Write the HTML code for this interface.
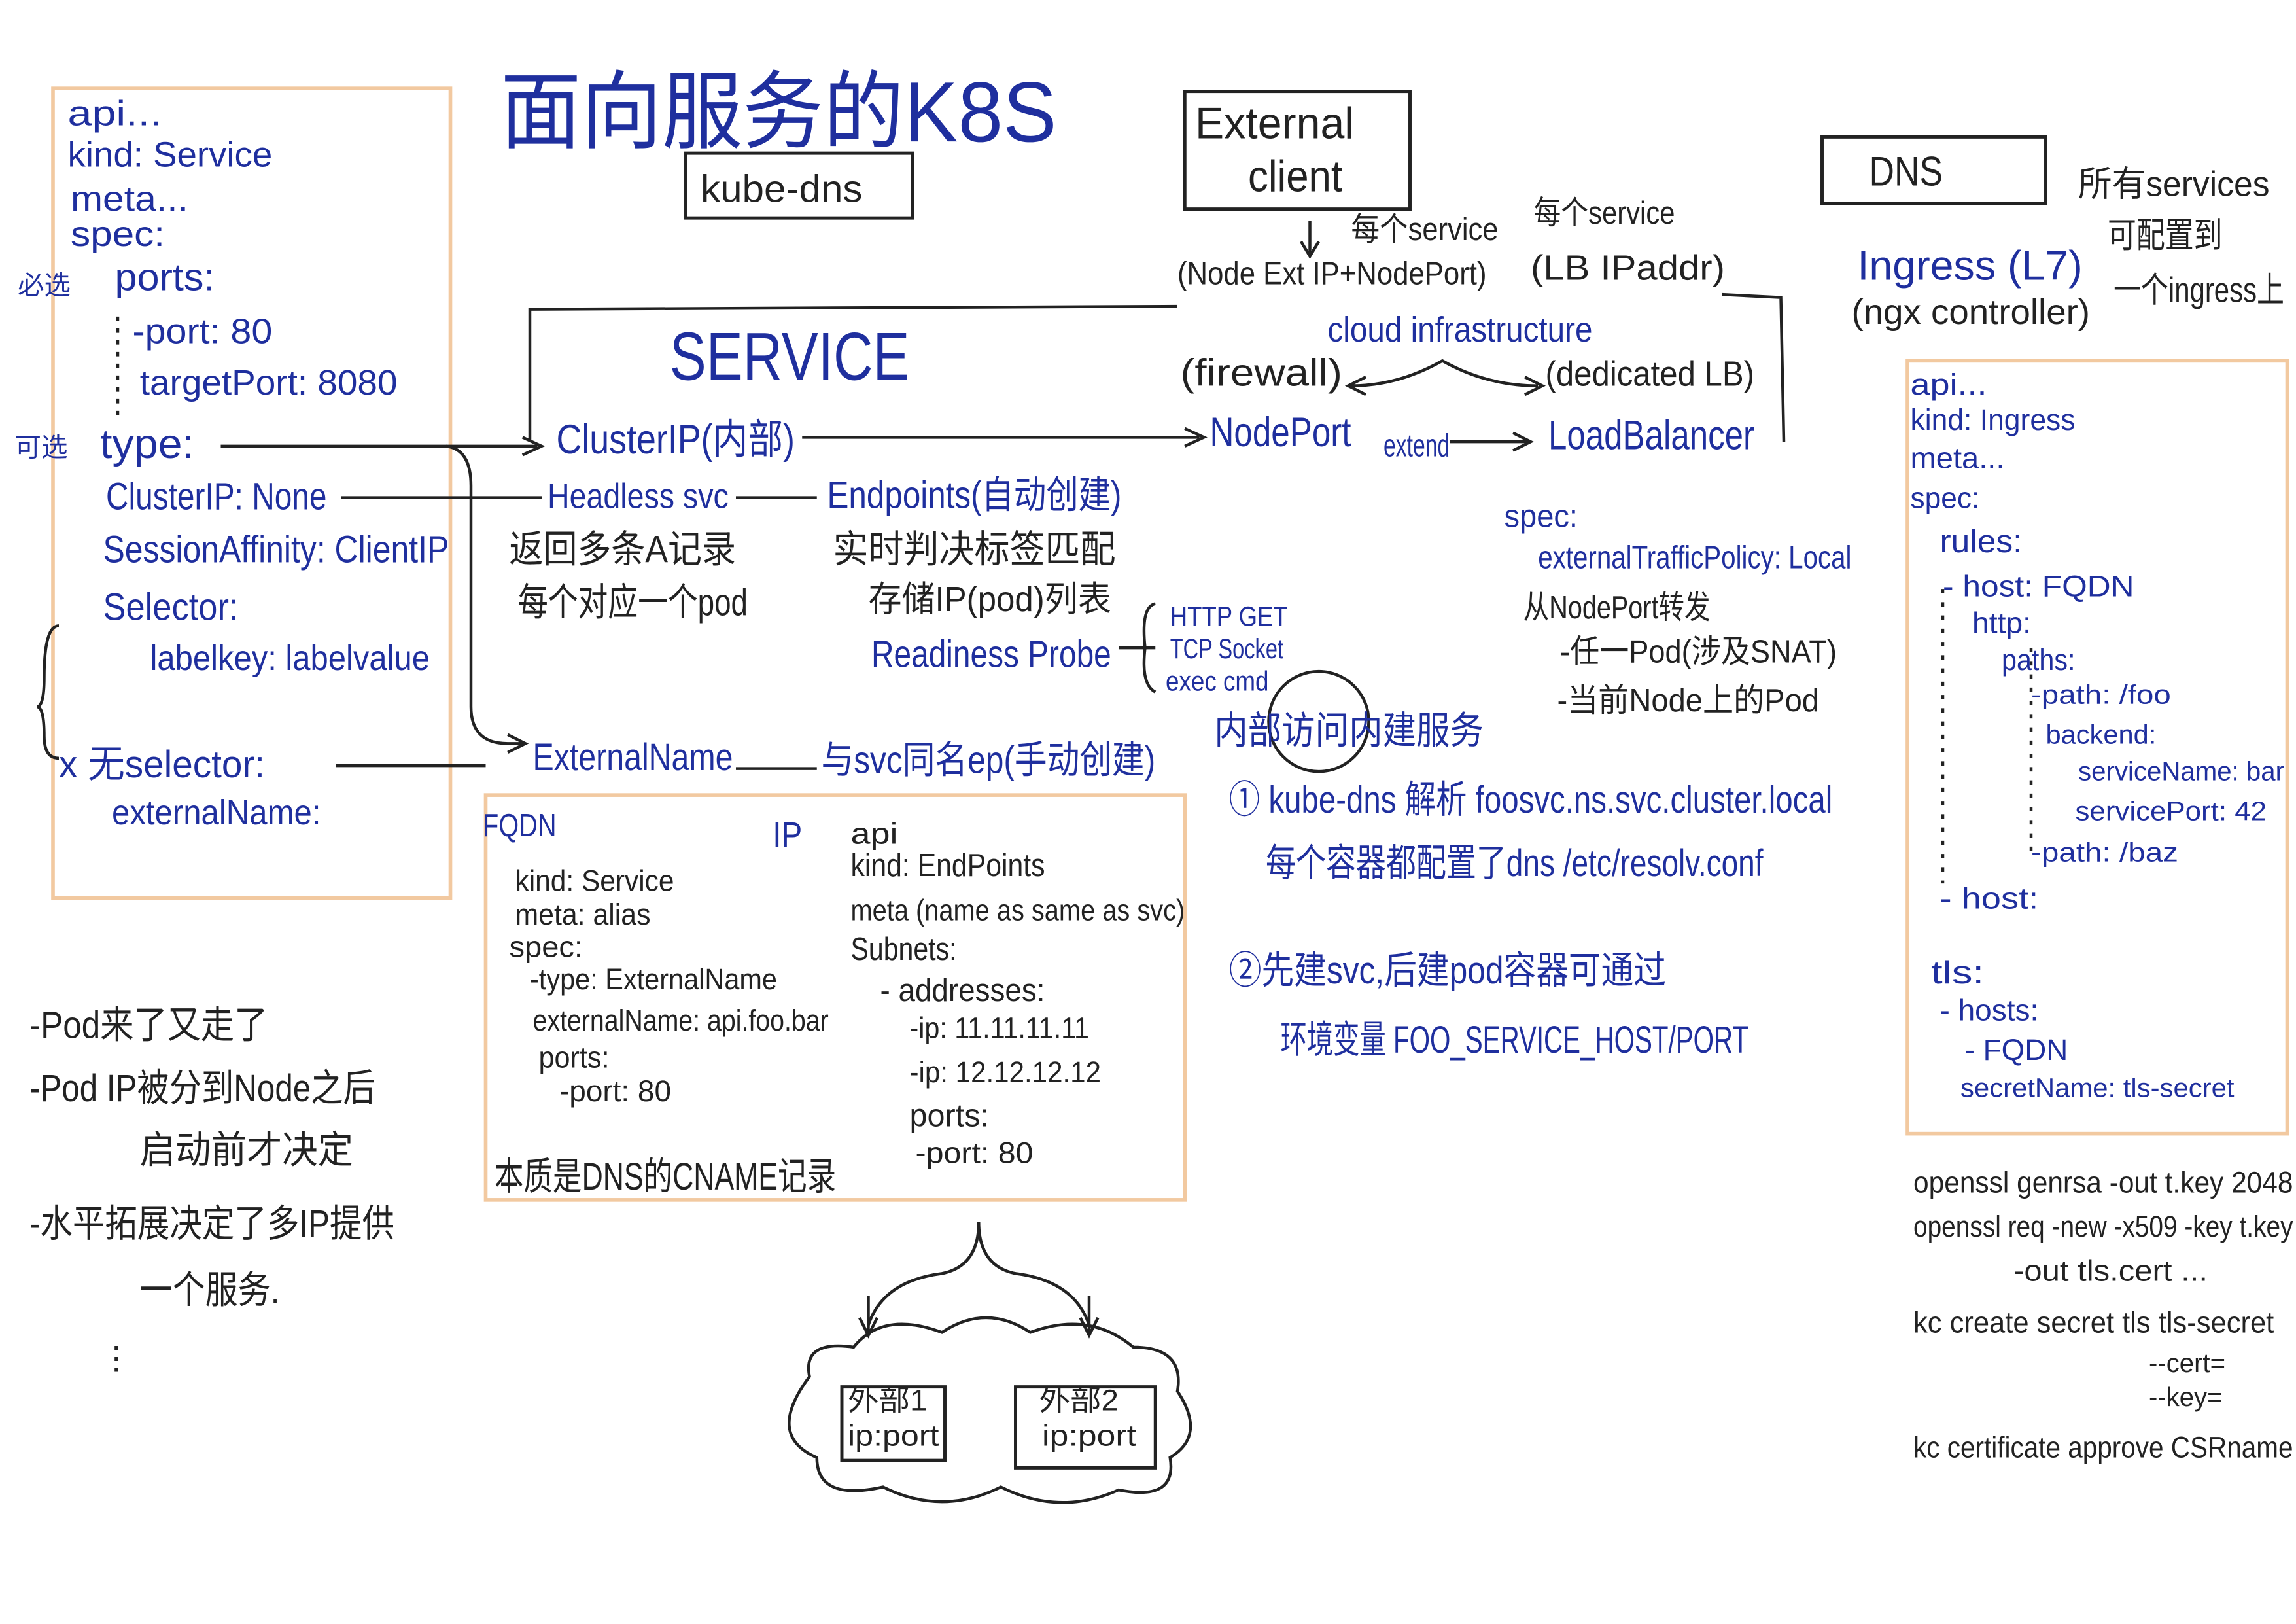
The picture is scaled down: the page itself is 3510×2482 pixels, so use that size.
<!DOCTYPE html>
<html><head><meta charset="utf-8"><style>
html,body{margin:0;padding:0;background:#fff;}
svg{display:block}
text{font-family:"Liberation Sans","Noto Sans CJK SC",sans-serif;fill:#1f2f9e;}
.k{fill:#222}
</style></head><body>
<svg width="3510" height="2482" viewBox="0 0 1560 1103" xmlns="http://www.w3.org/2000/svg">
<rect width="1560" height="1103" fill="#fff"/>
<g fill="none" stroke="#f2c9a0" stroke-width="2.5">
<rect x="36" y="60" width="270" height="550"/>
<rect x="330" y="540" width="475" height="275"/>
<rect x="1296" y="245" width="258" height="525"/>
</g>
<g fill="none" stroke="#222" stroke-width="2.2">
<rect x="466" y="104" width="154" height="44"/>
<rect x="805" y="62" width="153" height="80"/>
<rect x="1238" y="93" width="152" height="45"/>
<rect x="572" y="942" width="70" height="50"/>
<rect x="690" y="942" width="95" height="55"/>
</g>
<text x="340" y="96" font-size="58" textLength="378" lengthAdjust="spacingAndGlyphs">面向服务的K8S</text>
<text class="k" x="476" y="137" font-size="26" textLength="110" lengthAdjust="spacingAndGlyphs">kube-dns</text>
<text class="k" x="812" y="94" font-size="30" textLength="108" lengthAdjust="spacingAndGlyphs">External</text>
<text class="k" x="848" y="130" font-size="30" textLength="64" lengthAdjust="spacingAndGlyphs">client</text>
<text class="k" x="1270" y="126" font-size="28" textLength="50" lengthAdjust="spacingAndGlyphs">DNS</text>
<text class="k" x="1412" y="133" font-size="24" textLength="130" lengthAdjust="spacingAndGlyphs">所有services</text>
<text class="k" x="1432" y="168" font-size="24" textLength="78" lengthAdjust="spacingAndGlyphs">可配置到</text>
<text class="k" x="1436" y="205" font-size="24" textLength="116" lengthAdjust="spacingAndGlyphs">一个ingress上</text>
<text x="1262" y="190" font-size="28" textLength="153" lengthAdjust="spacingAndGlyphs">Ingress (L7)</text>
<text class="k" x="1258" y="220" font-size="24" textLength="162" lengthAdjust="spacingAndGlyphs">(ngx controller)</text>
<g stroke="#222" stroke-width="2" fill="none">
<path d="M360 300 L360 210 L800 208"/>
<path d="M1170 200 L1210 202 L1212 300"/>
<path d="M150 303 L365 303"/>
<path d="M355 297 L368 303 L355 309"/>
<path d="M545 297 L815 297"/>
<path d="M805 291 L818 297 L805 303"/>
<path d="M985 300 L1038 300"/>
<path d="M1028 294 L1040 300 L1028 306"/>
<path d="M232 338 L368 338"/>
<path d="M500 338 L555 338"/>
<path d="M303 303 Q320 305 320 330 L320 480 Q320 505 345 505 L355 505"/>
<path d="M345 499 L357 505 L345 511"/>
<path d="M228 520 L330 520"/>
<path d="M500 522 L555 522"/>
<path d="M760 440 L785 440 M785 410 Q775 412 778 440 Q775 465 785 470"/>
<path d="M890 150 L890 172 M884 164 L890 174 L896 164"/>
<path d="M918 262 Q950 262 980 245 Q1010 262 1045 262"/>
<path d="M928 256 L916 262 L928 268 M1036 256 L1048 262 L1036 268"/>
<path d="M40 425 Q30 425 30 460 Q30 480 25 480 Q30 480 30 500 Q30 515 40 515"/>
<path d="M590 900 Q600 870 640 865 Q665 860 665 830 Q665 860 690 865 Q730 870 740 900"/>
<path d="M590 880 L590 905 M584 895 L590 907 L596 895 M740 880 L740 905 M734 895 L740 907 L746 895"/>
<path d="M550 935 Q545 910 580 915 Q600 890 640 905 Q670 885 700 905 Q740 890 770 915 Q805 915 800 945 Q820 975 795 990 Q800 1020 760 1012 Q720 1030 680 1010 Q640 1030 600 1010 Q555 1020 555 990 Q520 975 550 935 Z"/>
<ellipse cx="896" cy="490" rx="34" ry="34"/>
<path d="M80 215 L80 285" stroke-dasharray="3 5"/>
<path d="M1320 400 L1320 600 M1380 440 L1380 580" stroke-dasharray="3 6"/>
</g>
<text x="46" y="85" font-size="24" textLength="64" lengthAdjust="spacingAndGlyphs">api...</text>
<text x="46" y="113" font-size="24" textLength="139" lengthAdjust="spacingAndGlyphs">kind: Service</text>
<text x="48" y="143" font-size="24" textLength="80" lengthAdjust="spacingAndGlyphs">meta...</text>
<text x="48" y="167" font-size="24" textLength="64" lengthAdjust="spacingAndGlyphs">spec:</text>
<text x="78" y="197" font-size="26" textLength="68" lengthAdjust="spacingAndGlyphs">ports:</text>
<text x="90" y="233" font-size="24" textLength="95" lengthAdjust="spacingAndGlyphs">-port: 80</text>
<text x="95" y="268" font-size="24" textLength="175" lengthAdjust="spacingAndGlyphs">targetPort: 8080</text>
<text x="68" y="311" font-size="28" textLength="64" lengthAdjust="spacingAndGlyphs">type:</text>
<text x="72" y="346" font-size="26" textLength="150" lengthAdjust="spacingAndGlyphs">ClusterIP: None</text>
<text x="70" y="382" font-size="26" textLength="235" lengthAdjust="spacingAndGlyphs">SessionAffinity: ClientIP</text>
<text x="70" y="421" font-size="26" textLength="92" lengthAdjust="spacingAndGlyphs">Selector:</text>
<text x="102" y="455" font-size="24" textLength="190" lengthAdjust="spacingAndGlyphs">labelkey: labelvalue</text>
<text x="40" y="528" font-size="26" textLength="140" lengthAdjust="spacingAndGlyphs">x 无selector:</text>
<text x="76" y="560" font-size="24" textLength="142" lengthAdjust="spacingAndGlyphs">externalName:</text>
<text x="12" y="200" font-size="18">必选</text>
<text x="10" y="310" font-size="18">可选</text>
<text x="455" y="258" font-size="46" textLength="163" lengthAdjust="spacingAndGlyphs">SERVICE</text>
<text x="378" y="308" font-size="28" textLength="162" lengthAdjust="spacingAndGlyphs">ClusterIP(内部)</text>
<text x="822" y="303" font-size="28" textLength="96" lengthAdjust="spacingAndGlyphs">NodePort</text>
<text x="940" y="310" font-size="22" textLength="45" lengthAdjust="spacingAndGlyphs">extend</text>
<text x="1052" y="305" font-size="28" textLength="140" lengthAdjust="spacingAndGlyphs">LoadBalancer</text>
<text x="372" y="345" font-size="24" textLength="123" lengthAdjust="spacingAndGlyphs">Headless svc</text>
<text x="562" y="345" font-size="26" textLength="200" lengthAdjust="spacingAndGlyphs">Endpoints(自动创建)</text>
<text class="k" x="346" y="382" font-size="26" textLength="154" lengthAdjust="spacingAndGlyphs">返回多条A记录</text>
<text class="k" x="352" y="418" font-size="26" textLength="156" lengthAdjust="spacingAndGlyphs">每个对应一个pod</text>
<text class="k" x="566" y="382" font-size="26" textLength="192" lengthAdjust="spacingAndGlyphs">实时判决标签匹配</text>
<text class="k" x="590" y="415" font-size="24" textLength="165" lengthAdjust="spacingAndGlyphs">存储IP(pod)列表</text>
<text x="592" y="453" font-size="26" textLength="163" lengthAdjust="spacingAndGlyphs">Readiness Probe</text>
<text x="795" y="425" font-size="19" textLength="80" lengthAdjust="spacingAndGlyphs">HTTP GET</text>
<text x="795" y="447" font-size="19" textLength="77" lengthAdjust="spacingAndGlyphs">TCP Socket</text>
<text x="792" y="469" font-size="19" textLength="70" lengthAdjust="spacingAndGlyphs">exec cmd</text>
<text x="362" y="523" font-size="26" textLength="136" lengthAdjust="spacingAndGlyphs">ExternalName</text>
<text x="558" y="525" font-size="26" textLength="227" lengthAdjust="spacingAndGlyphs">与svc同名ep(手动创建)</text>
<text class="k" x="800" y="193" font-size="22" textLength="210" lengthAdjust="spacingAndGlyphs">(Node Ext IP+NodePort)</text>
<text class="k" x="918" y="163" font-size="22" textLength="100" lengthAdjust="spacingAndGlyphs">每个service</text>
<text class="k" x="1042" y="152" font-size="22" textLength="96" lengthAdjust="spacingAndGlyphs">每个service</text>
<text class="k" x="1040" y="190" font-size="24" textLength="132" lengthAdjust="spacingAndGlyphs">(LB IPaddr)</text>
<text x="902" y="232" font-size="24" textLength="180" lengthAdjust="spacingAndGlyphs">cloud infrastructure</text>
<text class="k" x="802" y="262" font-size="26" textLength="110" lengthAdjust="spacingAndGlyphs">(firewall)</text>
<text class="k" x="1050" y="262" font-size="24" textLength="142" lengthAdjust="spacingAndGlyphs">(dedicated LB)</text>
<text x="1022" y="358" font-size="22" textLength="50" lengthAdjust="spacingAndGlyphs">spec:</text>
<text x="1045" y="386" font-size="22" textLength="213" lengthAdjust="spacingAndGlyphs">externalTrafficPolicy: Local</text>
<text class="k" x="1035" y="420" font-size="22" textLength="127" lengthAdjust="spacingAndGlyphs">从NodePort转发</text>
<text class="k" x="1060" y="450" font-size="22" textLength="188" lengthAdjust="spacingAndGlyphs">-任一Pod(涉及SNAT)</text>
<text class="k" x="1058" y="483" font-size="22" textLength="178" lengthAdjust="spacingAndGlyphs">-当前Node上的Pod</text>
<text x="825" y="505" font-size="26" textLength="183" lengthAdjust="spacingAndGlyphs">内部访问内建服务</text>
<text x="835" y="552" font-size="26" textLength="410" lengthAdjust="spacingAndGlyphs">① kube-dns 解析 foosvc.ns.svc.cluster.local</text>
<text x="860" y="595" font-size="26" textLength="338" lengthAdjust="spacingAndGlyphs">每个容器都配置了dns /etc/resolv.conf</text>
<text x="835" y="668" font-size="26" textLength="297" lengthAdjust="spacingAndGlyphs">②先建svc,后建pod容器可通过</text>
<text x="870" y="715" font-size="26" textLength="318" lengthAdjust="spacingAndGlyphs">环境变量 FOO_SERVICE_HOST/PORT</text>
<text x="328" y="568" font-size="22" textLength="50" lengthAdjust="spacingAndGlyphs">FQDN</text>
<text x="525" y="575" font-size="24" textLength="20" lengthAdjust="spacingAndGlyphs">IP</text>
<text class="k" x="350" y="605" font-size="20" textLength="108" lengthAdjust="spacingAndGlyphs">kind: Service</text>
<text class="k" x="350" y="628" font-size="20" textLength="92" lengthAdjust="spacingAndGlyphs">meta: alias</text>
<text class="k" x="346" y="650" font-size="20" textLength="50" lengthAdjust="spacingAndGlyphs">spec:</text>
<text class="k" x="360" y="672" font-size="20" textLength="168" lengthAdjust="spacingAndGlyphs">-type: ExternalName</text>
<text class="k" x="362" y="700" font-size="20" textLength="201" lengthAdjust="spacingAndGlyphs">externalName: api.foo.bar</text>
<text class="k" x="366" y="725" font-size="20" textLength="48" lengthAdjust="spacingAndGlyphs">ports:</text>
<text class="k" x="380" y="748" font-size="20" textLength="76" lengthAdjust="spacingAndGlyphs">-port: 80</text>
<text class="k" x="336" y="808" font-size="26" textLength="232" lengthAdjust="spacingAndGlyphs">本质是DNS的CNAME记录</text>
<text class="k" x="578" y="573" font-size="20" textLength="32" lengthAdjust="spacingAndGlyphs">api</text>
<text class="k" x="578" y="595" font-size="22" textLength="132" lengthAdjust="spacingAndGlyphs">kind: EndPoints</text>
<text class="k" x="578" y="625" font-size="20" textLength="227" lengthAdjust="spacingAndGlyphs">meta (name as same as svc)</text>
<text class="k" x="578" y="652" font-size="22" textLength="72" lengthAdjust="spacingAndGlyphs">Subnets:</text>
<text class="k" x="598" y="680" font-size="22" textLength="112" lengthAdjust="spacingAndGlyphs">- addresses:</text>
<text class="k" x="618" y="705" font-size="20" textLength="122" lengthAdjust="spacingAndGlyphs">-ip: 11.11.11.11</text>
<text class="k" x="618" y="735" font-size="20" textLength="130" lengthAdjust="spacingAndGlyphs">-ip: 12.12.12.12</text>
<text class="k" x="618" y="765" font-size="22" textLength="54" lengthAdjust="spacingAndGlyphs">ports:</text>
<text class="k" x="622" y="790" font-size="20" textLength="80" lengthAdjust="spacingAndGlyphs">-port: 80</text>
<text class="k" x="576" y="958" font-size="20" textLength="54" lengthAdjust="spacingAndGlyphs">外部1</text>
<text class="k" x="576" y="982" font-size="20" textLength="62" lengthAdjust="spacingAndGlyphs">ip:port</text>
<text class="k" x="706" y="958" font-size="20" textLength="54" lengthAdjust="spacingAndGlyphs">外部2</text>
<text class="k" x="708" y="982" font-size="20" textLength="64" lengthAdjust="spacingAndGlyphs">ip:port</text>
<text class="k" x="20" y="705" font-size="26" textLength="162" lengthAdjust="spacingAndGlyphs">-Pod来了又走了</text>
<text class="k" x="20" y="748" font-size="26" textLength="235" lengthAdjust="spacingAndGlyphs">-Pod IP被分到Node之后</text>
<text class="k" x="95" y="790" font-size="26" textLength="145" lengthAdjust="spacingAndGlyphs">启动前才决定</text>
<text class="k" x="20" y="840" font-size="26" textLength="248" lengthAdjust="spacingAndGlyphs">-水平拓展决定了多IP提供</text>
<text class="k" x="95" y="885" font-size="26" textLength="95" lengthAdjust="spacingAndGlyphs">一个服务.</text>
<text class="k" x="68" y="930" font-size="22">⋮</text>
<text x="1298" y="268" font-size="20" textLength="52" lengthAdjust="spacingAndGlyphs">api...</text>
<text x="1298" y="292" font-size="20" textLength="112" lengthAdjust="spacingAndGlyphs">kind: Ingress</text>
<text x="1298" y="318" font-size="20" textLength="64" lengthAdjust="spacingAndGlyphs">meta...</text>
<text x="1298" y="345" font-size="20" textLength="47" lengthAdjust="spacingAndGlyphs">spec:</text>
<text x="1318" y="375" font-size="22" textLength="56" lengthAdjust="spacingAndGlyphs">rules:</text>
<text x="1320" y="405" font-size="20" textLength="130" lengthAdjust="spacingAndGlyphs">- host: FQDN</text>
<text x="1340" y="430" font-size="20" textLength="40" lengthAdjust="spacingAndGlyphs">http:</text>
<text x="1360" y="455" font-size="20" textLength="50" lengthAdjust="spacingAndGlyphs">paths:</text>
<text x="1380" y="478" font-size="18" textLength="95" lengthAdjust="spacingAndGlyphs">-path: /foo</text>
<text x="1390" y="505" font-size="18" textLength="75" lengthAdjust="spacingAndGlyphs">backend:</text>
<text x="1412" y="530" font-size="18" textLength="140" lengthAdjust="spacingAndGlyphs">serviceName: bar</text>
<text x="1410" y="557" font-size="18" textLength="130" lengthAdjust="spacingAndGlyphs">servicePort: 42</text>
<text x="1380" y="585" font-size="18" textLength="100" lengthAdjust="spacingAndGlyphs">-path: /baz</text>
<text x="1318" y="617" font-size="20" textLength="67" lengthAdjust="spacingAndGlyphs">- host:</text>
<text x="1312" y="668" font-size="22" textLength="36" lengthAdjust="spacingAndGlyphs">tls:</text>
<text x="1318" y="693" font-size="20" textLength="67" lengthAdjust="spacingAndGlyphs">- hosts:</text>
<text x="1335" y="720" font-size="20" textLength="70" lengthAdjust="spacingAndGlyphs">- FQDN</text>
<text x="1332" y="745" font-size="18" textLength="186" lengthAdjust="spacingAndGlyphs">secretName: tls-secret</text>
<text class="k" x="1300" y="810" font-size="20" textLength="258" lengthAdjust="spacingAndGlyphs">openssl genrsa -out t.key 2048</text>
<text class="k" x="1300" y="840" font-size="20" textLength="258" lengthAdjust="spacingAndGlyphs">openssl req -new -x509 -key t.key</text>
<text class="k" x="1368" y="870" font-size="20" textLength="132" lengthAdjust="spacingAndGlyphs">-out tls.cert ...</text>
<text class="k" x="1300" y="905" font-size="20" textLength="245" lengthAdjust="spacingAndGlyphs">kc create secret tls tls-secret</text>
<text class="k" x="1460" y="932" font-size="18" textLength="52" lengthAdjust="spacingAndGlyphs">--cert=</text>
<text class="k" x="1460" y="955" font-size="18" textLength="50" lengthAdjust="spacingAndGlyphs">--key=</text>
<text class="k" x="1300" y="990" font-size="20" textLength="258" lengthAdjust="spacingAndGlyphs">kc certificate approve CSRname</text>
</svg>
</body></html>
